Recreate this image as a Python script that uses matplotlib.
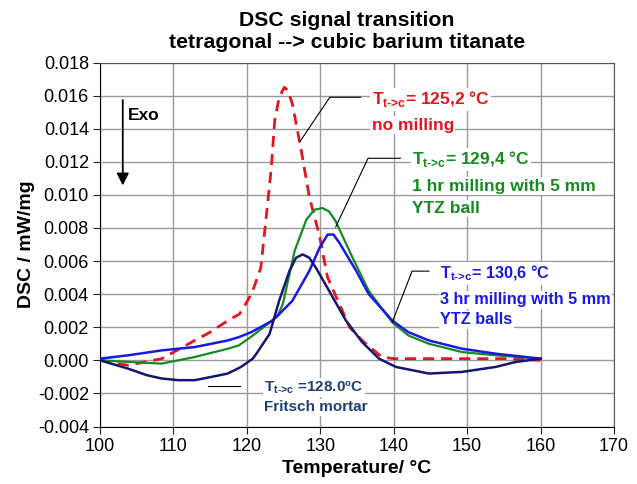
import matplotlib
matplotlib.use("Agg")
import matplotlib.pyplot as plt

plt.rcParams['font.family'] = ['Liberation Sans', 'DejaVu Sans']
plt.rcParams['mathtext.fontset'] = 'custom'
plt.rcParams['mathtext.rm'] = 'Liberation Sans:bold'
plt.rcParams['mathtext.bf'] = 'Liberation Sans:bold'

# no milling (red, dashed)
t_red = [100, 103.8, 108.4, 112.9, 115, 117.4, 119, 120.1, 120.8, 121.9, 122.6, 123.3,
         123.8, 124.4, 125.1, 125.6, 126.2, 127.4, 128.5, 129.9, 131.0, 132.6, 134,
         135.7, 136.2, 138.4, 140, 145, 150, 155, 160]
v_red = [0, -0.0003, 0.0001, 0.0012, 0.0017, 0.0024, 0.0028, 0.0036, 0.0042, 0.0056, 0.0085,
         0.0115, 0.0145, 0.0159, 0.0165, 0.0163, 0.0155, 0.0127, 0.0099, 0.0075, 0.0050,
         0.0034, 0.0020, 0.0012, 0.0010, 0.0002, 0.0001, 0.0001, 0.0001, 0.0001, 0.0000]

# 1 hr milling (green)
t_green = [100, 104, 108.4, 112.9, 117.4, 118.9, 120.5, 122, 124.2, 124.9, 125.7, 126.5,
           128.1, 129.2, 130.3, 131.2, 132.1, 134.4, 136.6, 139.8, 142, 144.8, 149.3,
           153.9, 160]
v_green = [0, -0.0001, -0.0002, 0.0002, 0.0007, 0.0009, 0.0014, 0.0019, 0.0027, 0.0034,
           0.0050, 0.0066, 0.0085, 0.0091, 0.0092, 0.0090, 0.0084, 0.0062, 0.0042, 0.0023,
           0.0015, 0.0010, 0.0005, 0.0003, 0.0001]

# 3 hr milling (blue)
t_blue = [100, 103.8, 108.4, 112.9, 117.4, 118.9, 120.6, 123.5, 124.2, 126.2, 128.5, 129.9,
          131.0, 131.8, 132.6, 134.9, 136.6, 139.8, 142, 144.8, 149.3, 153.9, 160]
v_blue = [0.0001, 0.0003, 0.0006, 0.0008, 0.0012, 0.0014, 0.0017, 0.0024, 0.0027, 0.0036,
          0.0054, 0.0068, 0.0076, 0.0076, 0.0071, 0.0054, 0.0040, 0.0024, 0.0017, 0.0012,
          0.0007, 0.0004, 0.0001]

# Fritsch mortar (navy)
t_navy = [100, 103.8, 106.4, 108.4, 110.7, 112.9, 115.2, 117.4, 119.2, 120.8, 121.3, 123.1,
          124.4, 125.8, 126.7, 127.6, 128.5, 129.4, 131.2, 133.5, 135.7, 138, 140.3, 144.8,
          149.3, 153.9, 156.6, 160]
v_navy = [0, -0.0005, -0.0009, -0.0011, -0.0012, -0.0012, -0.0010, -0.0008, -0.0004, 0.0001,
          0.0004, 0.0016, 0.0036, 0.0054, 0.0062, 0.0064, 0.0062, 0.0056, 0.0042, 0.0024,
          0.0011, 0.0001, -0.0004, -0.0008, -0.0007, -0.0004, -0.0001, 0.0001]

xticks = [100, 110, 120, 130, 140, 150, 160, 170]
yticks = [-0.004, -0.002, 0.0, 0.002, 0.004, 0.006, 0.008, 0.010, 0.012, 0.014, 0.016, 0.018]

c_red = '#e8141c'
c_green = '#158a1e'
c_blue = '#1818e8'
c_navy = '#16166e'
c_navy_txt = '#1f3f78'

fig = plt.figure(figsize=(6.37, 4.84), dpi=100)
ax = fig.add_axes([100/637, 1-426.5/484, 514/637, 364/484])

ax.plot(t_red, v_red, color=c_red, lw=2, dashes=(4, 2.5), zorder=3)
ax.plot(t_green, v_green, color=c_green, lw=1.6, zorder=3)
ax.plot(t_blue, v_blue, color=c_blue, lw=1.8, zorder=4)
ax.plot(t_navy, v_navy, color=c_navy, lw=1.8, zorder=5)

ax.set_xlim(100, 170)
ax.set_ylim(-0.004, 0.018)
ax.set_xticks(xticks)
ax.set_yticks(yticks)
ax.set_yticklabels(['%.3f' % y for y in yticks])
ax.tick_params(labelsize=13, direction='out', length=5, color='#222222', pad=3)
ax.grid(True, color='#9a9a9a', lw=1)
ax.set_axisbelow(True)
for s in ['top', 'right']:
    ax.spines[s].set_color('#555555')

ax.set_xlabel('Temperature/ °C', fontsize=14, fontweight='bold')
ax.set_ylabel('DSC / mW/mg', fontsize=14, fontweight='bold')
ax.yaxis.set_label_coords(-(100 - 35) / 514, 0.5)

fig.text(347/637, 1-20/484, 'DSC signal transition', ha='center', va='center',
         fontsize=15.3, fontweight='bold')
fig.text(347/637, 1-43/484, 'tetragonal --> cubic barium titanate', ha='center',
         va='center', fontsize=15.3, fontweight='bold')

# Exo arrow
ax.annotate('', xy=(103.1, 0.0104), xytext=(103.1, 0.0159),
            arrowprops=dict(arrowstyle='-|>', color='black', lw=1.3, mutation_scale=18))
ax.text(103.8, 0.0148, 'Exo', fontsize=12.5, fontweight='bold', va='center')

box = dict(facecolor='white', edgecolor='none', pad=1)
sub = r'T$_{\mathrm{t\text{->}c}}$'

# connectors
ax.plot([127.2, 131.3, 135.5], [0.0132, 0.0159, 0.0159], color='black', lw=0.8, zorder=6)
ax.plot([132.1, 136.5, 140.9], [0.00806, 0.01221, 0.01221], color='black', lw=0.8, zorder=6)
ax.plot([139.8, 142.5, 144.8], [0.0023, 0.00539, 0.00539], color='black', lw=0.8, zorder=6)
ax.plot([114.7, 119.0], [-0.00158, -0.00158], color='black', lw=0.8, zorder=6)

ax.text(137.0, 0.01578, sub + '= 125,2 °C', color=c_red, fontsize=12.5, fontweight='bold',
        va='center', bbox=box)
ax.text(137.0, 0.01422, 'no milling', color=c_red, fontsize=12.5, fontweight='bold',
        va='center', bbox=box)

ax.text(142.5, 0.01215, sub + '= 129,4 °C', color=c_green, fontsize=12.5, fontweight='bold',
        va='center', bbox=box)
ax.text(142.5, 0.01053, '1 hr milling with 5 mm', color=c_green, fontsize=12.5,
        fontweight='bold', va='center', bbox=box)
ax.text(142.5, 0.00918, 'YTZ ball', color=c_green, fontsize=12.5, fontweight='bold',
        va='center', bbox=box)

ax.text(146.35, 0.00524, sub + '= 130,6 °C', color=c_blue, fontsize=11.7, fontweight='bold',
        va='center', bbox=box)
ax.text(146.35, 0.00366, '3 hr milling with 5 mm', color=c_blue, fontsize=11.7,
        fontweight='bold', va='center', bbox=box)
ax.text(146.35, 0.00245, 'YTZ balls', color=c_blue, fontsize=11.7, fontweight='bold',
        va='center', bbox=box)

ax.text(122.4, -0.00164, sub + ' =128.0ºC', color=c_navy_txt, fontsize=11, fontweight='bold',
        va='center', bbox=box)
ax.text(122.4, -0.00285, 'Fritsch mortar', color=c_navy_txt, fontsize=11, fontweight='bold',
        va='center', bbox=box)

fig.savefig('out.png', dpi=100)
